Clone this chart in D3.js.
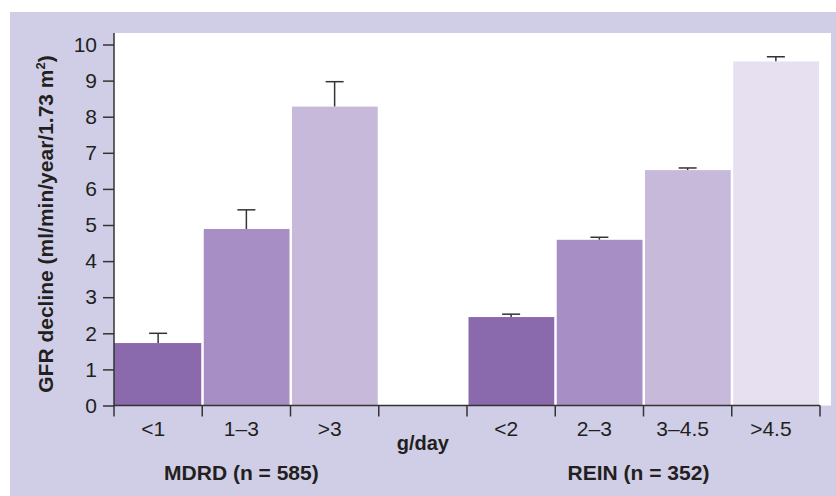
<!DOCTYPE html>
<html>
<head>
<meta charset="utf-8">
<script src="https://cdn.jsdelivr.net/npm/d3@7"></script>
<style>
  body { margin: 0; background: #fff; }
  svg text { font-family: Arial, "Liberation Sans", sans-serif; fill: #231f20; }
</style>
</head>
<body>
<div id="chart"></div>
<script>
// data
var categories = ["<1", "1\u20133", ">3", "", "<2", "2\u20133", "3\u20134.5", ">4.5"];
var means = [1.73, 4.89, 8.28, null, 2.45, 4.59, 6.52, 9.53];
var upper = [2.0, 5.42, 8.97, null, 2.53, 4.66, 6.58, 9.66];
var yTicks = [0, 1, 2, 3, 4, 5, 6, 7, 8, 9, 10];
var groupLabels = [
  { name: "MDRD (n = 585)", from: 0, to: 2 },
  { name: "REIN (n = 352)", from: 4, to: 7 }
];
var shades = ["#8a69ad", "#a78ec4", "#c7b9da", "#e6e0f0"];

var W = 836, H = 496;
var plotL = 114, plotR = 820, plotT = 33, plotB = 405.5;

var svg = d3.select("#chart").append("svg")
    .attr("width", W).attr("height", H);

// lavender panel and white plot area
svg.append("rect").attr("x", 10).attr("y", 12)
    .attr("width", W - 10).attr("height", H - 12)
    .attr("fill", "#d0cee6");
svg.append("rect").attr("x", plotL).attr("y", plotT)
    .attr("width", 831 - plotL).attr("height", plotB - plotT)
    .attr("fill", "#fff");

var x = d3.scaleBand().domain(d3.range(categories.length))
    .range([plotL, plotR]).paddingInner(0).paddingOuter(0);
var y = d3.scaleLinear().domain([0, 10]).range([plotB, 44.5]);

var idx = d3.range(categories.length).filter(function(i){ return means[i] != null; });

// shade is position inside its group
function shadeOf(i) {
  var g = groupLabels.filter(function(d){ return i >= d.from && i <= d.to; })[0];
  return shades[i - g.from];
}

// error bars
svg.selectAll("line.err").data(idx).enter().append("line")
    .attr("class", "err")
    .attr("x1", function(i){ return x(i) + x.bandwidth()/2; })
    .attr("x2", function(i){ return x(i) + x.bandwidth()/2; })
    .attr("y1", function(i){ return y(means[i]); })
    .attr("y2", function(i){ return y(upper[i]); })
    .attr("stroke", "#333").attr("stroke-width", 1.5);
svg.selectAll("line.cap").data(idx).enter().append("line")
    .attr("class", "cap")
    .attr("x1", function(i){ return x(i) + x.bandwidth()/2 - 9; })
    .attr("x2", function(i){ return x(i) + x.bandwidth()/2 + 9; })
    .attr("y1", function(i){ return y(upper[i]); })
    .attr("y2", function(i){ return y(upper[i]); })
    .attr("stroke", "#333").attr("stroke-width", 1.5);

// bars
svg.selectAll("rect.bar").data(idx).enter().append("rect")
    .attr("class", "bar")
    .attr("x", function(i){ return x(i) + (i === 0 ? 0 : 1.5); })
    .attr("width", function(i){ return x.bandwidth() - (i === 0 ? 1 : 2.5); })
    .attr("y", function(i){ return y(means[i]); })
    .attr("height", function(i){ return y(0) - y(means[i]); })
    .attr("fill", function(i){ return shadeOf(i); });

// y axis
var yAxis = svg.append("g").attr("transform", "translate(" + plotL + ",0)")
    .call(d3.axisLeft(y).tickValues(yTicks).tickSize(11).tickPadding(6));
yAxis.select(".domain").remove();
yAxis.selectAll(".tick line").attr("stroke", "#333").attr("stroke-width", 1.5);
yAxis.selectAll(".tick text").style("font-size", "21px").attr("fill", "#231f20")
    .attr("font-family", null);
svg.append("line").attr("x1", plotL).attr("x2", plotL)
    .attr("y1", plotT).attr("y2", plotB + 0.75)
    .attr("stroke", "#333").attr("stroke-width", 1.5);

// x axis: ticks on band edges
var edges = d3.range(categories.length + 1).map(function(i){
  return i < categories.length ? x(i) : plotR;
});
svg.append("line").attr("x1", plotL).attr("x2", plotR)
    .attr("y1", plotB).attr("y2", plotB)
    .attr("stroke", "#333").attr("stroke-width", 1.5);
svg.selectAll("line.xt").data(edges).enter().append("line")
    .attr("class", "xt")
    .attr("x1", function(d){ return d; }).attr("x2", function(d){ return d; })
    .attr("y1", plotB).attr("y2", plotB + 11)
    .attr("stroke", "#333").attr("stroke-width", 1.5);
svg.selectAll("text.xl").data(idx).enter().append("text")
    .attr("class", "xl")
    .attr("x", function(i){ return x(i) + x.bandwidth()/2 - 5; })
    .attr("y", 436)
    .attr("text-anchor", "middle")
    .style("font-size", "21px")
    .text(function(i){ return categories[i]; });

// unit in the empty slot
svg.append("text")
    .attr("x", x(3) + x.bandwidth()/2)
    .attr("y", 450)
    .attr("text-anchor", "middle")
    .style("font-size", "20px").style("font-weight", "bold")
    .text("g/day");

// group labels
svg.selectAll("text.grp").data(groupLabels).enter().append("text")
    .attr("class", "grp")
    .attr("x", function(d){ return (x(d.from) + x(d.to) + x.bandwidth())/2 - 5; })
    .attr("y", 480)
    .attr("text-anchor", "middle")
    .style("font-size", "21px").style("font-weight", "bold")
    .text(function(d){ return d.name; });

// y title
var yt = svg.append("text")
    .attr("transform", "translate(53,224) rotate(-90)")
    .attr("text-anchor", "middle")
    .style("font-size", "21px").style("font-weight", "bold");
yt.append("tspan").text("GFR decline (ml/min/year/1.73 m");
yt.append("tspan").attr("dy", -8).style("font-size", "13px").text("2");
yt.append("tspan").attr("dy", 8).text(")");
</script>
</body>
</html>
